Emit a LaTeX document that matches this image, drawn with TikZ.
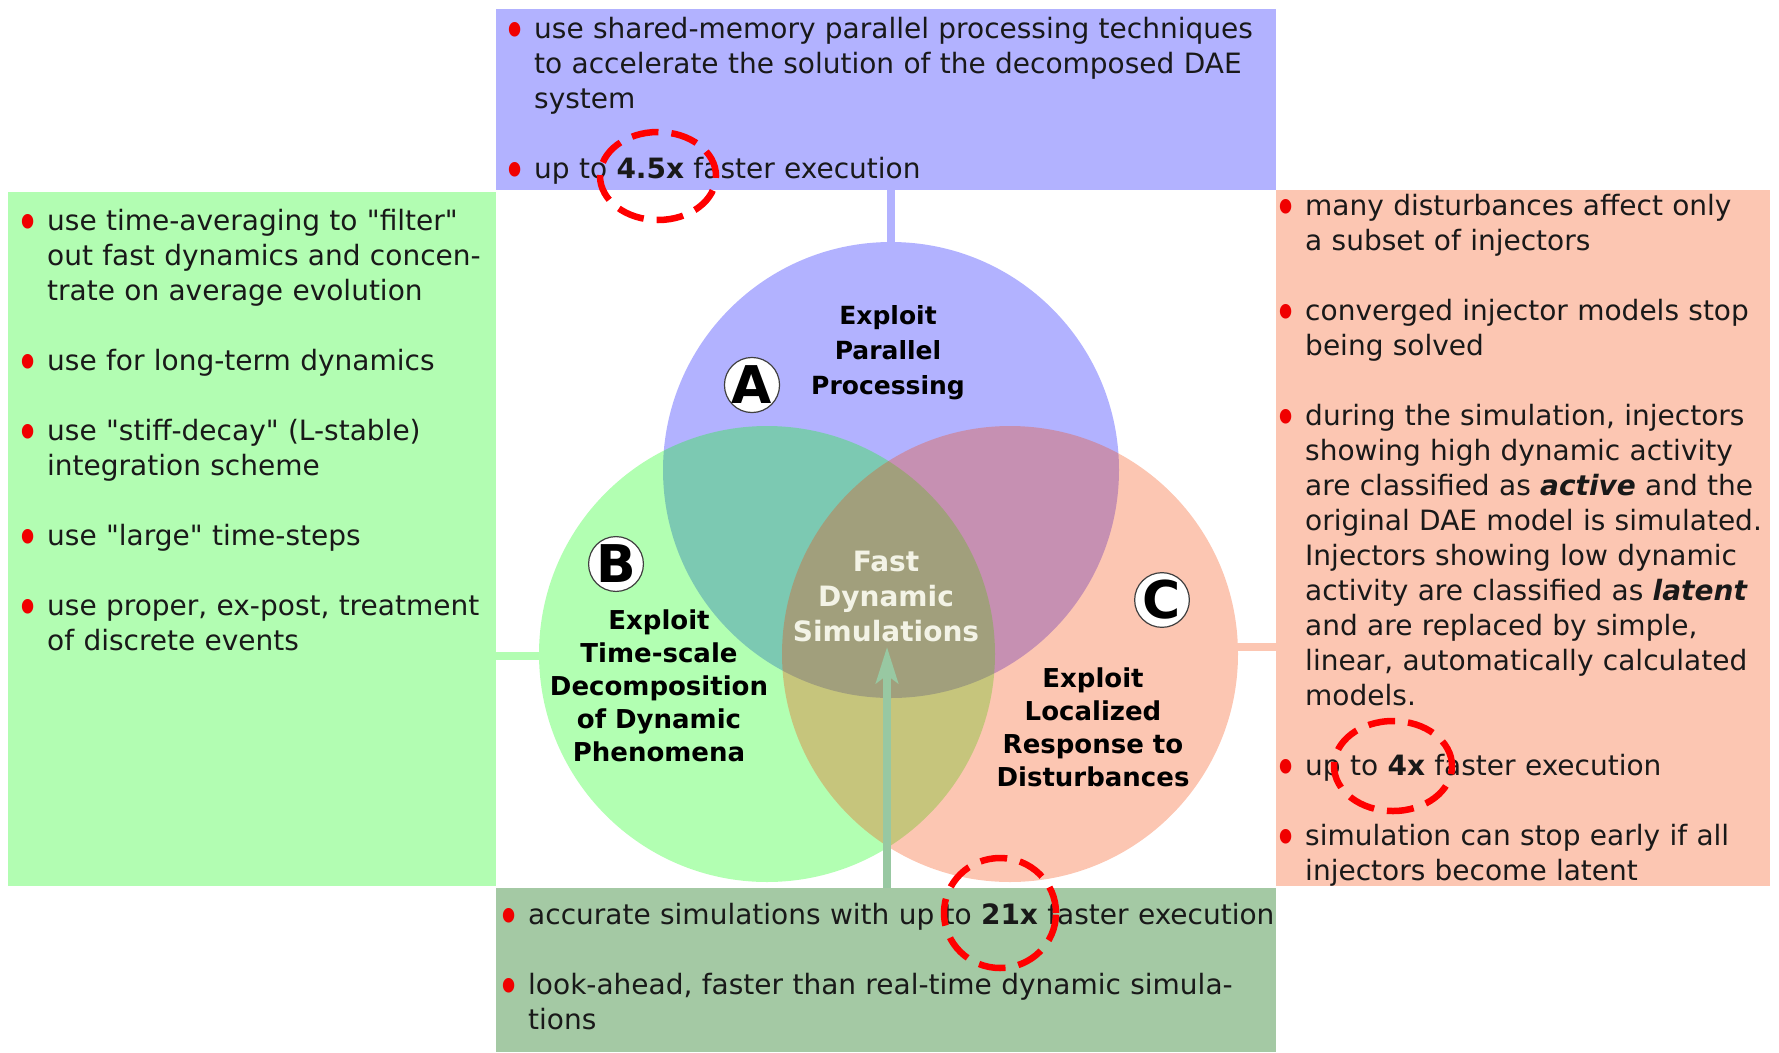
\documentclass[tikz,border=0pt]{standalone}
\usepackage{fontspec}
\usepackage{graphicx}
\setmainfont{DejaVu Sans}
\newfontfamily\plainquote{DejaVu Sans}
\usetikzlibrary{arrows.meta}

% flat panel tints and the saturated inks of the three discs
\definecolor{panelblue}{RGB}{178,178,255}
\definecolor{panelgreen}{RGB}{178,253,178}
\definecolor{panelsalmon}{RGB}{252,198,178}
\definecolor{panelresult}{RGB}{164,201,164}
\definecolor{arrowgreen}{RGB}{152,200,162}
\definecolor{dotred}{RGB}{240,0,0}
\definecolor{markred}{RGB}{255,0,0}
\definecolor{inkblue}{RGB}{0,0,255}
\definecolor{inkgreen}{RGB}{0,255,0}
\definecolor{inkorange}{RGB}{245,65,0}
\definecolor{lenstext}{RGB}{243,243,230}
\definecolor{bodytext}{RGB}{25,25,25}

% red bullet hung in the left margin of a list line
\newcommand{\itemdot}{\leavevmode\llap{\makebox[0pt][c]{\textcolor{dotred}{\raisebox{-10pt}{\scalebox{1.4}[1.8]{•}}}}\hspace{19pt}}}
% straight double quote
\newcommand{\dq}{{\plainquote\symbol{34}}}

\begin{document}
\begin{tikzpicture}[x=1pt,y=-1pt,
  panel/.style={rectangle, inner sep=0pt, outer sep=0pt, anchor=north west},
  listing/.style={anchor=base west, inner sep=0pt, text width=900pt, align=left,
    text=bodytext, font=\fontsize{28pt}{35pt}\selectfont},
  setdisc/.style={circle, inner sep=0pt, outer sep=0pt, minimum size=456pt, fill opacity=0.3},
  setname/.style={align=center, inner sep=0pt, font=\bfseries\fontsize{26pt}{33pt}\selectfont},
  badge/.style={circle, inner sep=0pt, minimum size=53pt, fill=white, draw=black!75,
    line width=1.2pt, font=\bfseries\fontsize{52pt}{52pt}\selectfont},
  link/.style={line width=8pt},
  gain/.style={draw=markred, line width=6.5pt, dash pattern=on 27pt off 13pt},
]
\useasboundingbox (0,0) rectangle (1779,1052);

% outer panels
\node[panel, fill=panelblue, minimum width=780pt, minimum height=181pt] (topbox) at (496,9) {};
\node[panel, fill=panelgreen, minimum width=488pt, minimum height=694pt] (leftbox) at (8,192) {};
\node[panel, fill=panelsalmon, minimum width=494pt, minimum height=696pt] (rightbox) at (1276,190) {};
\node[panel, fill=panelresult, minimum width=780pt, minimum height=164pt] (botbox) at (496,888) {};

% the three overlapping discs
\node[setdisc, fill=inkblue] (A) at (891,470) {};
\node[setdisc, fill=inkgreen] (B) at (767,654) {};
\node[setdisc, fill=inkorange] (C) at (1010,654) {};

% links from the discs to their panels
\draw[link, panelblue] (A.north) -- (A.north |- topbox.south);
\draw[link, panelgreen] ([yshift=-2pt]B.west) -- ([yshift=-2pt]B.west -| leftbox.east);
\draw[link, panelsalmon] ([yshift=7pt]C.east) -- ([yshift=7pt]C.east -| rightbox.west);

% disc titles
\node[setname, font=\bfseries\fontsize{25pt}{35pt}\selectfont] (nameA) at (888,353) {Exploit\\Parallel\\Processing};
\node[setname] (nameB) at (659,686) {Exploit\\Time-scale\\Decomposition\\of Dynamic\\Phenomena};
\node[setname] (nameC) at (1093,727) {Exploit\\Localized\\Response to\\Disturbances};
\node[setname, text=lenstext, font=\bfseries\fontsize{28pt}{35pt}\selectfont] (core) at (886,596) {Fast\\Dynamic\\Simulations};

% letter badges
\node[badge] (badgeA) at (752,385) {A};
\node[badge] (badgeB) at (616,564) {B};
\node[badge] (badgeC) at (1162,600) {C};

% result arrow into the common lens
\coordinate (tip) at (887,647);
\draw[line width=8pt, arrowgreen, -{Stealth[length=36pt, width=22pt, inset=8pt]}] (tip |- botbox.north) -- (tip);

% panel texts
\node[listing] (topnotes) at (534,38) {\itemdot use shared-memory parallel processing techniques\\
to accelerate the solution of the decomposed DAE\\
system\\[35pt]
\itemdot up to \textbf{4.5x} faster execution};

\node[listing] (leftnotes) at (47,230) {\itemdot use time-averaging to \dq filter\dq\\
out fast dynamics and concen-\\
trate on average evolution\\[35pt]
\itemdot use for long-term dynamics\\[35pt]
\itemdot use \dq stiff-decay\dq\ (L-stable)\\
integration scheme\\[35pt]
\itemdot use \dq large\dq\ time-steps\\[35pt]
\itemdot use proper, ex-post, treatment\\
of discrete events};

\node[listing] (rightnotes) at (1305,215) {\itemdot many disturbances affect only\\
a subset of injectors\\[35pt]
\itemdot converged injector models stop\\
being solved\\[35pt]
\itemdot during the simulation, injectors\\
showing high dynamic activity\\
are classified as \textbf{\textit{active}} and the\\
original DAE model is simulated.\\
Injectors showing low dynamic\\
activity are classified as \textbf{\textit{latent}}\\
and are replaced by simple,\\
linear, automatically calculated\\
models.\\[35pt]
\itemdot up to \textbf{4x} faster execution\\[35pt]
\itemdot simulation can stop early if all\\
injectors become latent};

\node[listing] (botnotes) at (528,924) {\itemdot accurate simulations with up to \textbf{21x} faster execution\\[35pt]
\itemdot look-ahead, faster than real-time dynamic simula-\\
tions};

% dashed highlights of the speed-ups
\draw[gain] (658,176) ellipse [x radius=58pt, y radius=44pt];
\draw[gain] (1393,766) ellipse [x radius=59pt, y radius=45pt];
\draw[gain] (1000,913) ellipse [x radius=56pt, y radius=55pt];
\end{tikzpicture}
\end{document}
